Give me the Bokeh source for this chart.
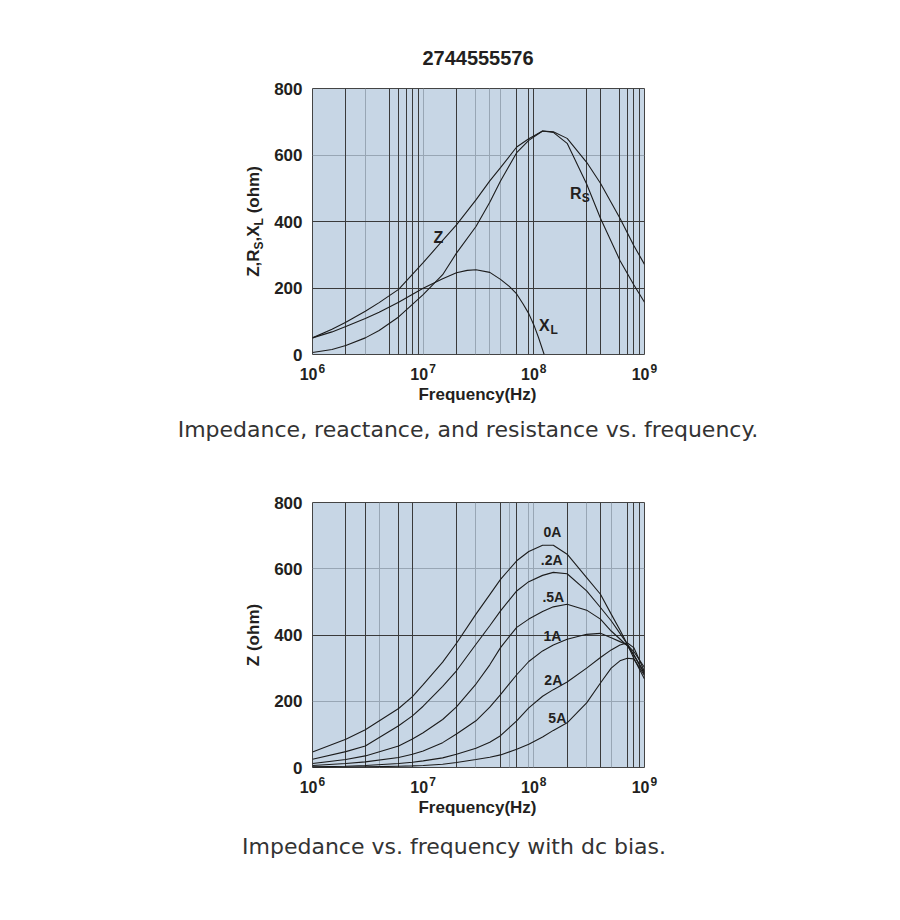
import math
from bokeh.plotting import figure
from bokeh.models import Range1d, FixedTicker, Grid, Label
from bokeh.core.properties import value
from bokeh.layouts import column
from bokeh.embed import file_html
from bokeh.resources import INLINE

# ---------------- data ----------------
title_text = "2744555576"
caption_top = "Impedance, reactance, and resistance vs. frequency."
caption_bottom = "Impedance vs. frequency with dc bias."
x_label = "Frequency(Hz)"
y_ticks = [0, 200, 400, 600, 800]
decades = [6, 7, 8, 9]

# top chart: Z, Rs, XL (ohm) vs frequency (Hz)
z_freq = [1e6, 1.5e6, 2e6, 3e6, 4e6, 6e6, 1e7, 1.5e7, 2e7, 3e7, 4e7, 5e7, 7e7,
          9e7, 1.2e8, 1.5e8, 2e8, 3e8, 4e8, 6e8, 8e8, 1e9]
z_ohm = [50, 76, 97, 130, 156, 196, 276, 343, 390, 465, 522, 562, 624,
         649, 672, 670, 650, 578, 515, 410, 328, 271]
rs_freq = [1e6, 1.5e6, 2e6, 3e6, 4e6, 6e6, 1e7, 1.5e7, 2e7, 3e7, 4e7, 5e7, 7e7,
           9e7, 1.2e8, 1.5e8, 2e8, 3e8, 4e8, 6e8, 8e8, 1e9]
rs_ohm = [6, 15, 27, 50, 72, 113, 180, 240, 305, 385, 458, 522, 607,
          644, 672, 668, 635, 513, 410, 283, 210, 157]
xl_freq = [1e6, 1.5e6, 2e6, 3e6, 4e6, 6e6, 1e7, 1.5e7, 2e7, 2.5e7, 3e7, 4e7, 5e7,
           6e7, 7e7, 8e7, 9e7, 1e8, 1.1e8, 1.24e8]
xl_ohm = [50, 68, 84, 108, 127, 157, 199, 228, 246, 253, 255, 247, 226,
          205, 182, 152, 123, 89, 52, 0]

# bottom chart: Z (ohm) vs frequency with dc bias
bias_freq = [1e6, 2e6, 3e6, 6e6, 8e6, 1e7, 1.5e7, 2e7, 3e7, 4e7, 5e7, 7e7, 9e7,
             1.2e8, 1.5e8, 2e8, 3e8, 4e8, 5e8, 6e8, 7e8, 8e8, 1e9]
bias_labels = ["0A", ".2A", ".5A", "1A", "2A", "5A"]
z_0A = [47, 85, 114, 178, 214, 250, 318, 375, 463, 522, 568, 624, 652,
        671, 671, 644, 573, 523, 463, 415, 372, 330, 267]
z_02A = [25, 48, 65, 126, 156, 185, 245, 292, 372, 428, 473, 533, 561,
         580, 589, 585, 533, 483, 443, 405, 372, 340, 282]
z_05A = [12, 24, 35, 65, 86, 105, 145, 183, 252, 310, 362, 423, 448,
         471, 485, 493, 475, 448, 412, 388, 367, 340, 287]
z_1A = [6, 12, 17, 30, 40, 50, 75, 101, 141, 182, 220, 280, 320,
        352, 370, 387, 402, 405, 392, 380, 370, 350, 302]
z_2A = [2, 4, 6, 12, 16, 20, 29, 40, 58, 76, 96, 141, 180,
        215, 235, 258, 300, 332, 355, 370, 376, 362, 290]
z_5A = [0.5, 1, 2, 4, 5, 6, 10, 15, 24, 31, 38, 55, 70,
        92, 112, 135, 195, 255, 300, 322, 330, 328, 278]
bias_series = [z_0A, z_02A, z_05A, z_1A, z_2A, z_5A]
# label anchor points (frequency, ohm) for the bias curves
bias_label_freq = [1.47e8, 1.45e8, 1.5e8, 1.47e8, 1.5e8, 1.63e8]
bias_label_ohm = [712, 626, 514, 398, 264, 149]

# grid line frequencies
top_grid_dark = [2e6, 5e6, 6e6, 7e6, 8e6, 9e6, 2e7, 7e7, 9e7, 1e8, 3e8, 4e8, 6e8, 7e8, 8e8, 9e8]
top_grid_light = [3e6, 1e7, 3e7, 4e7, 5e7]
top_hgrid_dark = [200, 400]
top_hgrid_light = [600]
bot_grid_dark = [2e6, 3e6, 6e6, 8e6, 2e7, 5e7, 7e7, 2e8, 4e8, 7e8, 8e8, 9e8]
bot_grid_light = [4e6, 3e7, 6e7, 9e7, 1e8, 3e8, 5e8]
bot_hgrid_dark = [400]
bot_hgrid_light = [200, 600]

# ---------------- style ----------------
FONT = "Liberation Sans"
INK = "#231f20"
PANEL = "#c7d6e5"
DARK = "#3a3a3a"
LIGHT = "#98a6b4"
LINE = "#1c1c1c"
FRAME_W = 332
DEC_PX = FRAME_W / 3.0


def make_fig(height, frame_h, border_top):
    p = figure(width=892, height=height, x_axis_type="log",
               x_range=Range1d(1e6, 1e9), y_range=Range1d(0, 800),
               output_backend="svg", toolbar_location=None,
               min_border_left=312, min_border_right=892 - 312 - FRAME_W,
               min_border_top=border_top,
               min_border_bottom=height - border_top - frame_h)
    p.background_fill_color = PANEL
    p.border_fill_color = "white"
    p.outline_line_color = "#444444"
    p.outline_line_width = 1
    p.xaxis.visible = False
    p.xgrid.visible = False
    p.ygrid.visible = False
    yax = p.yaxis[0]
    yax.ticker = FixedTicker(ticks=y_ticks)
    yax.axis_line_color = None
    yax.major_tick_line_color = None
    yax.minor_tick_line_color = None
    yax.major_tick_out = 0
    yax.major_tick_in = 0
    yax.minor_tick_out = 0
    yax.minor_tick_in = 0
    yax.major_label_standoff = 10
    yax.major_label_text_font = FONT
    yax.major_label_text_font_style = "bold"
    yax.major_label_text_font_size = "17px"
    yax.major_label_text_color = INK
    return p


def add_grids(p, vdark, vlight, hdark, hlight):
    for dim, ticks, color in ((0, vlight, LIGHT), (1, hlight, LIGHT),
                              (0, vdark, DARK), (1, hdark, DARK)):
        g = Grid(dimension=dim, ticker=FixedTicker(ticks=ticks),
                 grid_line_color=color, grid_line_width=1)
        p.add_layout(g)


def txt(p, x, y, text, size, dx=0, dy=0, align="center"):
    """Label in data units (inside the frame), centred on its point."""
    p.add_layout(Label(x=x, y=y, text=text, x_offset=dx, y_offset=dy,
                       text_font=FONT, text_font_size=f"{size}px",
                       text_font_style="bold", text_color=INK, text_align=align,
                       text_baseline="middle"))


def ptext(p, frame_h, px, py, text, size, align="left", bold=True, font=FONT,
          color=INK, angle=0.0):
    """Text outside the frame; px, py are pixels from the frame's bottom-left
    corner (py upward) of the text's middle, converted to data space."""
    x = 10 ** (6 + px / DEC_PX)
    y = py * 800.0 / frame_h
    p.text(x=[x], y=[y], text=[text], text_font=value(font),
           text_font_size=value(f"{size}px"),
           text_font_style=value("bold" if bold else "normal"),
           text_color=value(color), text_align=value(align),
           text_baseline=value("middle"), angle=value(angle),
           level="annotation")


def x_axis_texts(p, frame_h):
    for k in decades:
        tx = (k - 6) * DEC_PX
        ptext(p, frame_h, tx + 5, -19.5, "10", 16, align="right")
        ptext(p, frame_h, tx + 6, -14, str(k), 12, align="left")
    ptext(p, frame_h, FRAME_W / 2 - 1, -40, x_label, 17, align="center")


# widths (em) of Liberation Sans Bold glyphs used in rotated label
W = {"Z": .611, ",": .278, "R": .722, "S": .667, "X": .667, "L": .611,
     " ": .278, "(": .333, "o": .611, "h": .611, "m": .889, ")": .333}


def y_axis_label(p, pieces, frame_h):
    widths = [sum(W[c] for c in t) * (12 if sub else 17) for t, sub in pieces]
    pos = frame_h / 2 - sum(widths) / 2
    for (t, sub), w in zip(pieces, widths):
        lead = len(t) - len(t.lstrip(" "))
        start = pos + lead * W[" "] * (12 if sub else 17)
        ptext(p, frame_h, -59.5 + (6 if sub else 0), start, t.strip(" "),
              12 if sub else 17, align="left", angle=math.pi / 2)
        pos += w


# ---------------- top figure ----------------
H1, F1, T1 = 470, 266, 88
p1 = make_fig(H1, F1, T1)
add_grids(p1, top_grid_dark, top_grid_light, top_hgrid_dark, top_hgrid_light)
p1.line(z_freq, z_ohm, line_color=LINE, line_width=1.1)
p1.line(rs_freq, rs_ohm, line_color=LINE, line_width=1.1)
p1.line(xl_freq, xl_ohm, line_color=LINE, line_width=1.1)
txt(p1, 1.376e7, 353, "Z", 16)
txt(p1, 2.39e8, 484, "R", 16)
txt(p1, 2.39e8, 484, "S", 12, dx=10, dy=-4.5)
txt(p1, 1.243e8, 86, "X", 16)
txt(p1, 1.243e8, 86, "L", 12, dx=10, dy=-4)
ptext(p1, F1, FRAME_W / 2 - 0.5, F1 + 31, title_text, 20, align="center")
x_axis_texts(p1, F1)
y_axis_label(p1, [("Z,R", False), ("S", True), (",X", False), ("L", True), (" (ohm)", False)], F1)
ptext(p1, F1, 155.5, -75, caption_top, 22, align="center", bold=False,
      font="DejaVu Sans", color="#333333")

# ---------------- bottom figure ----------------
H2, F2, T2 = 440, 265, 32
p2 = make_fig(H2, F2, T2)
add_grids(p2, bot_grid_dark, bot_grid_light, bot_hgrid_dark, bot_hgrid_light)
for series in bias_series:
    p2.line(bias_freq, series, line_color=LINE, line_width=1.1)
for lab, fx, fy in zip(bias_labels, bias_label_freq, bias_label_ohm):
    txt(p2, fx, fy, lab, 14)
x_axis_texts(p2, F2)
y_axis_label(p2, [("Z (ohm)", False)], F2)
ptext(p2, F2, 141.5, -78.5, caption_bottom, 22, align="center", bold=False,
      font="DejaVu Sans", color="#333333")

layout = column(p1, p2)
open("out.html", "w").write(file_html(layout, INLINE))
